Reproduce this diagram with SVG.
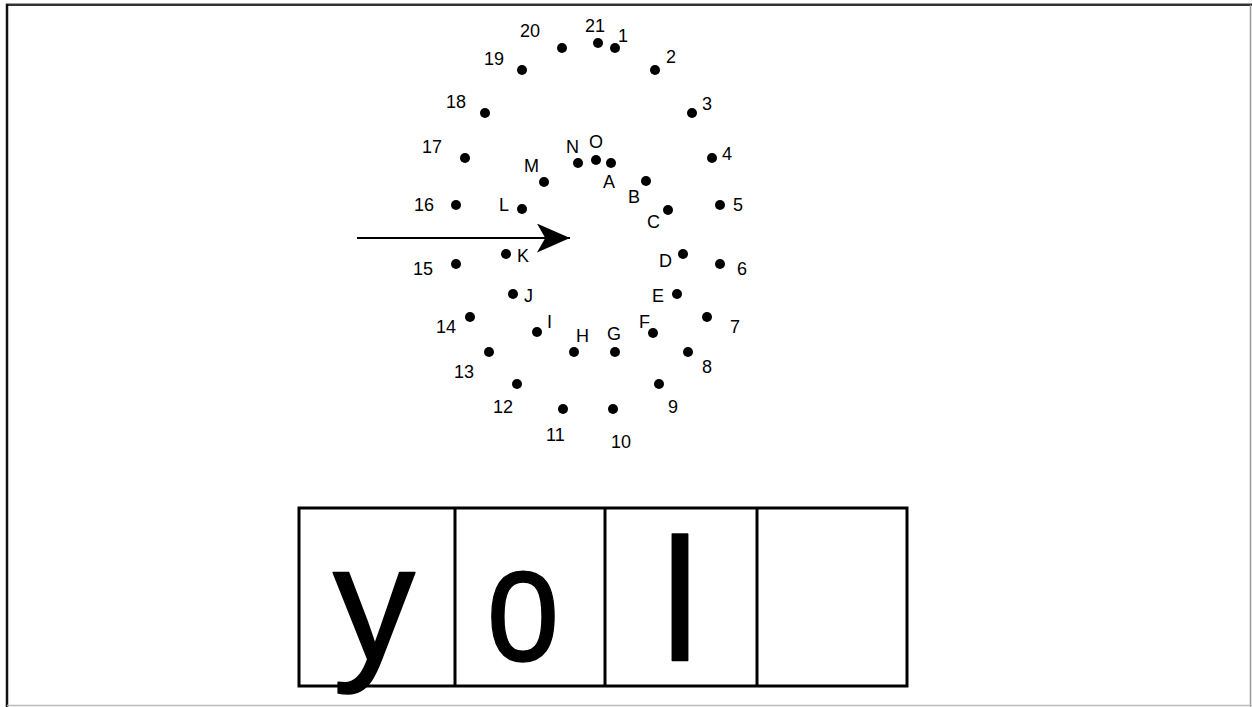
<svg xmlns="http://www.w3.org/2000/svg" width="1252" height="707" viewBox="0 0 1252 707">
<style>
.dot{fill:#000}
.lb{font-family:"Liberation Sans",Arial,sans-serif;font-size:18px;fill:#000}
.big{font-family:"Liberation Sans",Arial,sans-serif;font-size:165px;fill:#000;stroke:#000;stroke-width:1.5;stroke-linejoin:round;text-anchor:middle}
.cell{fill:none;stroke:#000;stroke-width:3}
</style>
<defs>
<marker id="ah" viewBox="0 0 32 28" refX="32" refY="14" markerWidth="33" markerHeight="29" markerUnits="userSpaceOnUse" orient="auto">
<path d="M0,0 L32,14 L0,28 L8,14 Z" fill="#000"/>
</marker>
</defs>
<rect x="0" y="0" width="1252" height="707" fill="#fff"/>
<g id="frame">
<line x1="6" y1="3.5" x2="1252" y2="3.5" stroke="#999" stroke-width="1"/>
<line x1="6" y1="5" x2="1252" y2="5" stroke="#333" stroke-width="2"/>
<line x1="7" y1="4" x2="7" y2="707" stroke="#111" stroke-width="2.5"/>
<line x1="1250.5" y1="5" x2="1250.5" y2="707" stroke="#999" stroke-width="1.5"/>
<line x1="7" y1="705.5" x2="1252" y2="705.5" stroke="#bbb" stroke-width="1.5"/>
</g>
<g id="connectors">
<line x1="357" y1="238" x2="570" y2="238" stroke="#000" stroke-width="1.8" marker-end="url(#ah)"/>
</g>
<g id="outer-dots">
<g id="p1"><circle class="dot" cx="615" cy="48" r="5"/><text class="lb" x="618" y="42">1</text></g>
<g id="p2"><circle class="dot" cx="655" cy="70" r="5"/><text class="lb" x="666" y="63">2</text></g>
<g id="p3"><circle class="dot" cx="692" cy="113" r="5"/><text class="lb" x="702" y="110">3</text></g>
<g id="p4"><circle class="dot" cx="712" cy="158" r="5"/><text class="lb" x="722" y="160">4</text></g>
<g id="p5"><circle class="dot" cx="720" cy="205" r="5"/><text class="lb" x="733" y="211">5</text></g>
<g id="p6"><circle class="dot" cx="720" cy="264" r="5"/><text class="lb" x="737" y="275">6</text></g>
<g id="p7"><circle class="dot" cx="707" cy="317" r="5"/><text class="lb" x="730" y="333">7</text></g>
<g id="p8"><circle class="dot" cx="688" cy="352" r="5"/><text class="lb" x="702" y="373">8</text></g>
<g id="p9"><circle class="dot" cx="659" cy="384" r="5"/><text class="lb" x="668" y="413">9</text></g>
<g id="p10"><circle class="dot" cx="613" cy="409" r="5"/><text class="lb" x="611" y="448">10</text></g>
<g id="p11"><circle class="dot" cx="563" cy="409" r="5"/><text class="lb" x="546" y="441">11</text></g>
<g id="p12"><circle class="dot" cx="517" cy="384" r="5"/><text class="lb" x="493" y="413">12</text></g>
<g id="p13"><circle class="dot" cx="489" cy="352" r="5"/><text class="lb" x="454" y="378">13</text></g>
<g id="p14"><circle class="dot" cx="470" cy="317" r="5"/><text class="lb" x="436" y="333">14</text></g>
<g id="p15"><circle class="dot" cx="456" cy="264" r="5"/><text class="lb" x="413" y="275">15</text></g>
<g id="p16"><circle class="dot" cx="456" cy="205" r="5"/><text class="lb" x="414" y="211">16</text></g>
<g id="p17"><circle class="dot" cx="465" cy="158" r="5"/><text class="lb" x="422" y="153">17</text></g>
<g id="p18"><circle class="dot" cx="485" cy="113" r="5"/><text class="lb" x="446" y="108">18</text></g>
<g id="p19"><circle class="dot" cx="522" cy="70" r="5"/><text class="lb" x="484" y="65">19</text></g>
<g id="p20"><circle class="dot" cx="562" cy="48" r="5"/><text class="lb" x="520" y="37">20</text></g>
<g id="p21"><circle class="dot" cx="598" cy="43" r="5"/><text class="lb" x="585" y="32">21</text></g>
</g>
<g id="inner-dots">
<g id="pA"><circle class="dot" cx="611" cy="163" r="5"/><text class="lb" x="603" y="188">A</text></g>
<g id="pB"><circle class="dot" cx="646" cy="181" r="5"/><text class="lb" x="628" y="203">B</text></g>
<g id="pC"><circle class="dot" cx="668" cy="210" r="5"/><text class="lb" x="647" y="228">C</text></g>
<g id="pD"><circle class="dot" cx="683" cy="254" r="5"/><text class="lb" x="659" y="267">D</text></g>
<g id="pE"><circle class="dot" cx="677" cy="294" r="5"/><text class="lb" x="652" y="302">E</text></g>
<g id="pF"><circle class="dot" cx="653" cy="333" r="5"/><text class="lb" x="639" y="328">F</text></g>
<g id="pG"><circle class="dot" cx="615" cy="352" r="5"/><text class="lb" x="607" y="340">G</text></g>
<g id="pH"><circle class="dot" cx="574" cy="352" r="5"/><text class="lb" x="576" y="342">H</text></g>
<g id="pI"><circle class="dot" cx="537" cy="332" r="5"/><text class="lb" x="547" y="328">I</text></g>
<g id="pJ"><circle class="dot" cx="513" cy="294" r="5"/><text class="lb" x="524" y="302">J</text></g>
<g id="pK"><circle class="dot" cx="506" cy="254" r="5"/><text class="lb" x="517" y="262">K</text></g>
<g id="pL"><circle class="dot" cx="522" cy="209" r="5"/><text class="lb" x="499" y="211">L</text></g>
<g id="pM"><circle class="dot" cx="544" cy="182" r="5"/><text class="lb" x="524" y="172">M</text></g>
<g id="pN"><circle class="dot" cx="578" cy="163" r="5"/><text class="lb" x="566" y="153">N</text></g>
<g id="pO"><circle class="dot" cx="596" cy="160" r="5"/><text class="lb" x="589" y="148">O</text></g>
</g>
<g id="word-boxes">
<rect class="cell" x="299" y="508" width="608" height="178"/>
<line class="cell" x1="455" y1="508" x2="455" y2="686"/>
<line class="cell" x1="605" y1="508" x2="605" y2="686"/>
<line class="cell" x1="757" y1="508" x2="757" y2="686"/>
<text class="big" x="374" y="660">y</text>
<text class="big" transform="translate(523,660) scale(0.8,1)" x="0" y="0">o</text>
<text class="big" x="680" y="660" style="font-size:175px">l</text>
</g>
</svg>
